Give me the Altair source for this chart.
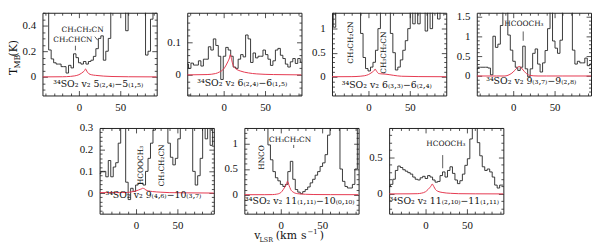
import altair as alt
import pandas as pd

# channel velocities (km/s)
V = [-44,-41,-38,-35,-32,-29,-26,-23,-20,-17,-14,-11,-8,-5,-2,1,4,7,10,13,16,19,22,25,28,31,34,37,40,43,46,49,52,55,58,61,64,67,70,73,76,79,82,85,88,91,94]

# observed spectra (T_MB, K)
S1 = [0.7,0.7,0.7,0.21,0.14,0.11,0.1,0.1,0.08,0.08,0.03,0.09,0.07,0.18,0.15,0.11,0.1,0.12,0.1,0.12,0.13,0.16,0.22,0.3,0.32,0.13,0.2,0.3,0.7,0.7,0.7,0.7,0.7,0.7,0.36,0.7,0.7,0.7,0.7,0.7,0.7,0.7,0.17,0.2,0.45,0.7,0.7]
S2 = [0.033,0.02,0.036,0.03,0.03,0.043,0.027,0.048,0.048,0.086,0.076,0.11,0.09,0.057,-0.014,0.057,0.084,0.076,0.057,0.024,0.02,0.048,0.062,0.055,0.122,0.11,0.038,0.067,0.052,0.057,0.057,0.076,0.062,0.048,0.029,0.043,0.076,0.081,0.06,0.05,0.033,0.024,0.04,0.05,0.035,0.05,0.04]
S3 = [1.6,1.03,1.6,1.6,1.6,1.6,1.6,1.6,1.6,1.6,1.6,1.6,0.9,0.4,0.17,0.12,0.2,0.3,0.55,1.0,1.6,1.6,1.6,1.6,0.9,0.5,0.14,0.2,0.35,0.55,0.75,1.0,1.6,1.1,1.6,1.1,1.6,1.6,0.95,1.6,1.0,1.6,1.6,1.2,1.6,1.6,1.6]
S4 = [0.18,0.22,0.22,0.22,0.22,0.2,0.03,1.0,0.72,0.8,1.27,1.8,1.8,1.03,0.65,0.37,0.22,0.14,0.22,0.75,0.18,-0.02,0.18,0.57,0.68,0.3,0.1,0.33,0.64,1.19,1.8,0.88,0.7,0.57,0.9,1.8,1.8,1.8,1.8,0.65,0.3,0.37,0.33,0.33,0.45,0.26,0.3]
S5 = [0.09,0.1,0.1,0.075,0.15,0.075,0.12,0.14,0.23,0.4,0.4,0.05,-0.03,0.022,0.007,0.037,0.045,0.045,0.037,0.1,0.16,0.23,0.29,0.4,0.4,0.4,0.4,0.4,0.23,0.165,0.13,0.16,0.25,0.4,0.4,0.4,0.4,0.4,0.1,0.037,0.08,0.16,0.4,0.25,0.4,0.22,0.4]
S6 = [1.5,1.5,1.5,1.5,1.5,1.5,1.5,1.5,1.5,1.3,0.97,0.68,0.45,0.33,0.27,0.2,0.16,0.2,0.45,0.65,0.3,0.1,0.05,0.02,0.06,0.1,0.15,0.23,0.3,0.38,0.45,0.55,0.62,0.78,1.16,1.5,1.5,1.5,1.5,0.5,0.26,0.16,0.13,0.13,0.2,0.5,1.5]
S7 = [0.1,0.13,0.2,0.32,0.38,0.36,0.33,0.31,0.29,0.27,0.23,0.2,0.19,0.22,0.24,0.21,0.25,0.23,0.19,0.16,0.17,0.25,0.3,0.23,0.32,0.37,0.28,0.19,0.14,0.18,0.27,0.39,0.48,0.75,1.0,1.0,0.7,0.52,0.37,0.32,0.34,0.3,0.23,0.12,0.08,0.12,0.12]

# model (red) velocities and values
RV = [-44,-20,-10,-5,0,3,5,7,8,10,12,15,20,30,40,60,94]
R1 = [0,0.001,0.004,0.008,0.017,0.028,0.038,0.05,0.062,0.04,0.025,0.017,0.012,0.006,0.003,0.001,0]
R2 = [0,0.001,0.004,0.009,0.018,0.03,0.04,0.052,0.062,0.042,0.026,0.018,0.012,0.006,0.003,0.001,0]
R3 = [0,0.002,0.01,0.02,0.045,0.075,0.1,0.13,0.16,0.11,0.07,0.06,0.055,0.03,0.01,0.003,0]
R4 = [0,0,0,0.03,0.1,0.17,0.21,0.24,0.235,0.2,0.15,0.08,0.015,0,0,0,0]
R5 = [0.002,0.002,0.003,0.006,0.01,0.014,0.017,0.02,0.022,0.02,0.014,0.01,0.007,0.004,0.002,0.001,0]
R6 = [0,0,0.002,0.01,0.04,0.1,0.15,0.21,0.26,0.18,0.1,0.05,0.02,0.008,0.003,0.001,0]
R7 = [0,0.001,0.003,0.01,0.03,0.06,0.085,0.115,0.135,0.1,0.06,0.035,0.02,0.008,0.003,0.001,0]

TRANS = ["³⁴SO₂ v₂ 5₍₂,₄₎−5₍₁,₅₎", "³⁴SO₂ v₂ 6₍₂,₄₎−6₍₁,₅₎", "³⁴SO₂ v₂ 6₍₃,₃₎−6₍₂,₄₎",
         "³⁴SO₂ v₂ 9₍₃,₇₎−9₍₂,₈₎", "³⁴SO₂ v₂ 9₍₄,₆₎−10₍₃,₇₎", "³⁴SO₂ v₂ 11₍₁,₁₁₎−10₍₀,₁₀₎",
         "³⁴SO₂ v₂ 11₍₂,₁₀₎−11₍₁,₁₁₎"]
TRANS_V = [-31, -32, -32.3, -32.7, -37, -43.2, -43.5]
TRANS_T = [-0.081, -0.033, -0.225, -0.21, -0.0225, -0.19, -0.14]

YDOM = [[-0.145, 0.5], [-0.063, 0.19], [-0.39, 1.33], [-0.49, 1.59], [-0.095, 0.3], [-0.37, 1.3], [-0.27, 0.9]]
MAJOR = [0.2, 0.1, 0.5, 0.5, 0.1, 0.5, 0.5]
MINOR = [0.05, 0.02, 0.1, 0.1, 0.02, 0.1, 0.1]

# horizontal molecule labels: (panel, text, v, T)
HLAB = [(0, "CH₃CH₂CN", 4.5, 0.352), (0, "CH₂CHCN", -7.2, 0.27), (3, "HCOOCH₃", 13, 1.25),
        (5, "CH₃CH₂CN", 11.3, 1.02), (6, "HCOOCH₃", 24.6, 0.65)]
# vertical molecule labels
VLAB = [(2, "CH₃CH₂CN", -20.6, 0.71), (2, "CH₃CH₂CN", 18.4, 0.5), (4, "HCOOCH₃", 5.9, 0.127),
        (4, "CH₃CH₂CN", 31.2, 0.127), (5, "HNCO", -22.7, 0.725)]
# marker lines: (panel, v1, T1, v2, T2)
MARK = [(0, -4.2, 0.243, -4.2, 0.207), (0, 19.2, 0.314, 22.7, 0.286), (3, 12.1, 1.12, 12.1, 0.886),
        (5, 15.6, 0.97, 15.6, 0.91), (6, 20.7, 0.53, 20.7, 0.35)]

SPECTRA = [S1, S2, S3, S4, S5, S6, S7]
MODELS = [R1, R2, R3, R4, R5, R6, R7]

W = 116
H1, H2 = 84, 87
SERIF = "DejaVu Serif"
NUMF = "Liberation Serif"


def yticks(d0, d1, step):
    import math
    k0 = math.ceil(d0 / step - 1e-9)
    k1 = math.floor(d1 / step + 1e-9)
    return [round(k * step, 6) for k in range(k0, k1 + 1)]


def seg(text, x, y, size, angle=0):
    return alt.Chart(pd.DataFrame({"a": [0]})).mark_text(
        text=text, font=SERIF, fontSize=size, color="#111", angle=angle,
        align="left", baseline="alphabetic").encode(x=alt.value(x), y=alt.value(y))


def panel(i, h):
    xs = alt.Scale(domain=[-44, 94], nice=False, zero=False)
    ys = alt.Scale(domain=YDOM[i], nice=False, zero=False)
    xt = list(range(-40, 91, 10))
    yt = yticks(YDOM[i][0], YDOM[i][1], MINOR[i])
    mj = MAJOR[i]
    xtest = "abs(datum.value % 50) < 0.001"
    ytest = f"abs(datum.value/{mj} - round(datum.value/{mj})) < 0.001"
    xsize = {"condition": {"test": xtest, "value": -5}, "value": -2.5}
    ysize = {"condition": {"test": ytest, "value": -5}, "value": -2.5}
    xfs = {"condition": {"test": xtest, "value": 11}, "value": 0}
    yfs = {"condition": {"test": ytest, "value": 11}, "value": 0}
    common = dict(grid=False, domain=False, tickColor="#222", tickWidth=0.8,
                  labelFont=NUMF, labelColor="#111", title=None, minExtent=0,
                  labelOverlap=False, labelFlush=False)
    xb = alt.Axis(orient="bottom", values=xt, tickSize=xsize, labelPadding=11, labelFontSize=xfs,
                  labelExpr=f"{xtest} ? format(datum.value, '~g') : ''", **common)
    yl = alt.Axis(orient="left", values=yt, tickSize=ysize, labelPadding=12, labelFontSize=yfs,
                  labelExpr=f"{ytest} ? format(datum.value, '~g') : ''", **common)
    xtop = alt.Axis(orient="top", values=xt, tickSize=xsize, labels=False, **common)
    yr = alt.Axis(orient="right", values=yt, tickSize=ysize, labels=False, **common)

    def ax(field):
        return alt.X(field, scale=xs, axis=None)

    def ay(field):
        return alt.Y(field, scale=ys, axis=None)

    black = alt.Chart(pd.DataFrame({"v": V, "T": SPECTRA[i]})).mark_line(
        interpolate="step", color="#222", strokeWidth=0.9, clip=True).encode(
        x=alt.X("v:Q", scale=xs, axis=xb), y=alt.Y("T:Q", scale=ys, axis=yl))
    red = alt.Chart(pd.DataFrame({"v": RV, "T": MODELS[i]})).mark_line(
        interpolate="monotone", color="#e5384f", strokeWidth=1, clip=True).encode(
        x=alt.X("v:Q", scale=xs, axis=xtop), y=alt.Y("T:Q", scale=ys, axis=yr))
    layers = [black, red]

    trans = alt.Chart(pd.DataFrame({"v": [TRANS_V[i]], "T": [TRANS_T[i]], "t": [TRANS[i]]})).mark_text(
        font=SERIF, fontSize=9.5, color="#111", align="left", baseline="alphabetic").encode(
        x=ax("v:Q"), y=ay("T:Q"), text="t:N")
    layers.append(trans)

    hl = [r for r in HLAB if r[0] == i]
    if hl:
        layers.append(alt.Chart(pd.DataFrame({"t": [r[1] for r in hl], "v": [r[2] for r in hl], "T": [r[3] for r in hl]}))
                      .mark_text(font=SERIF, fontSize=7.5, color="#111", align="center", baseline="alphabetic")
                      .encode(x=ax("v:Q"), y=ay("T:Q"), text="t:N"))
    vl = [r for r in VLAB if r[0] == i]
    if vl:
        layers.append(alt.Chart(pd.DataFrame({"t": [r[1] for r in vl], "v": [r[2] for r in vl], "T": [r[3] for r in vl]}))
                      .mark_text(font=SERIF, fontSize=7.5, color="#111", align="center", baseline="middle", angle=270)
                      .encode(x=ax("v:Q"), y=ay("T:Q"), text="t:N"))
    mk = [r for r in MARK if r[0] == i]
    if mk:
        layers.append(alt.Chart(pd.DataFrame({"v": [r[1] for r in mk], "T": [r[2] for r in mk],
                                              "v2": [r[3] for r in mk], "T2": [r[4] for r in mk]}))
                      .mark_rule(color="#333", strokeWidth=0.8)
                      .encode(x=ax("v:Q"), y=ay("T:Q"), x2="v2:Q", y2="T2:Q"))

    if i == 0:
        layers += [seg("T", -25.5, 63.3, 11, 270), seg("MB", -23, 56.6, 8, 270), seg(" (K)", -25.5, 44.5, 11, 270)]
    if i == 5:
        layers += [seg("v", 10, 112.5, 11), seg("LSR", 15.5, 115.5, 6.5), seg("(km", 32, 112.5, 11),
                   seg("s", 57.5, 112.5, 11), seg("−1", 64, 108, 7), seg(")", 76.5, 112.5, 11)]

    return alt.layer(*layers).properties(width=W, height=h)


spacer = alt.Chart(pd.DataFrame({"a": [0]})).mark_point(opacity=0).encode(
    x=alt.X("a:Q", axis=None), y=alt.Y("a:Q", axis=None)).properties(
    width=27, height=H2, view=alt.ViewBackground(stroke="transparent"))

row1 = alt.hconcat(panel(0, H1), panel(1, H1), panel(2, H1), panel(3, H1), spacing=31, bounds="flush")
row2 = alt.hconcat(spacer, panel(4, H2), panel(5, H2), panel(6, H2), spacing=31, bounds="flush")

chart = alt.vconcat(row1, row2, spacing=8).properties(
    padding=0, background="white").configure_view(stroke="#222", strokeWidth=1)

chart.save("out.html", embed_options={"renderer": "svg", "actions": False})
